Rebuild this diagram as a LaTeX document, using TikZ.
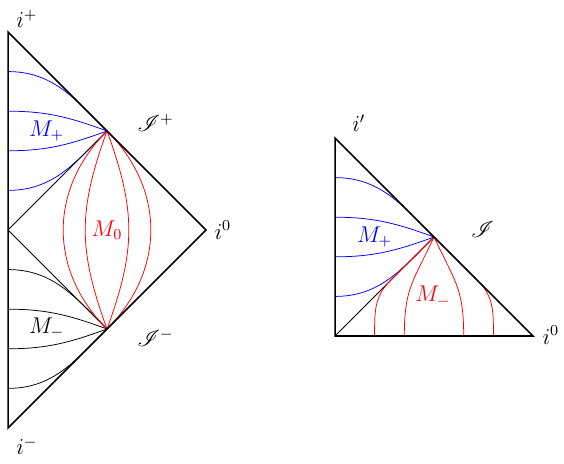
\documentclass[tikz,border=0pt]{standalone}
\usepackage{amsmath}
\usepackage{mathrsfs}
\usetikzlibrary{positioning}

\begin{document}
\begin{tikzpicture}[x=1.83cm, y=1.83cm, font=\large]
    \useasboundingbox (-0.081,-2.354) rectangle (5.616,2.323);
    % left diagram
    \coordinate (T) at (0,2);
    \coordinate (C) at (0,0);
    \coordinate (B) at (0,-2);
    \coordinate (R) at (2,0);
    \coordinate (P) at (1,1);
    \coordinate (Q) at (1,-1);
    \foreach \y/\a [count=\k] in {1.6/135, 1.2/160, 0.8/200, 0.4/225}{
      \coordinate (u\k) at (0,\y);
      \draw[blue] (u\k) to[out=0, in=\a] (P);
    }
    \foreach \y/\a [count=\k] in {-0.4/135, -0.8/160, -1.2/200, -1.6/225}{
      \coordinate (l\k) at (0,\y);
      \draw (l\k) to[out=0, in=\a] (Q);
    }
    \draw (C)--(P);
    \draw (C)--(Q);
    \draw[red] (P) to[out=225, in=135, looseness=1.07] (Q);
    \draw[red] (P) to[out=-45, in=45, looseness=1.07] (Q);
    \draw[red] (P) to[out=250, in=110, looseness=1.1] (Q);
    \draw[red] (P) to[out=-70, in=70, looseness=1.1] (Q);
    \draw[thick] (T)--(B)--(R)--cycle;
    \node (iplus) at (0.19, 2.13){$i^+$};
    \node (iminus) at (0.19, -2.18){$i^-$};
    \node (izero) at (2.17, 0){$i^0$};
    \node (scriplus) at (1.49, 1.08){$\mathscr{I}^+$};
    \node (scriminus) at (1.49, -1.09){$\mathscr{I}^-$};
    \node[blue] (Mplus) at (0.39, 1.0){$M_+$};
    \node[red] (Mzero) at (1.0, 0){$M_0$};
    \node (Mminus) at (0.39, -0.99){$M_-$};
    % right diagram
    \begin{scope}[shift={(3.303,-1.071)}]
      \coordinate (O2) at (0,0);
      \coordinate (T2) at (0,2);
      \coordinate (R2) at (2,0);
      \coordinate (P2) at (1,1);
      \foreach \y/\a [count=\k] in {1.6/135, 1.2/160, 0.8/200, 0.4/225}{
        \coordinate (v\k) at (0,\y);
        \draw[blue] (v\k) to[out=0, in=\a] (P2);
      }
      \draw (O2)--(P2);
      % red slices: outer ones run along the edges first
      \coordinate (k1) at (0.55,0.55);
      \coordinate (k4) at (1.45,0.55);
      \coordinate (d1) at (0.4,0);
      \coordinate (d2) at (0.7,0);
      \coordinate (d3) at (1.3,0);
      \coordinate (d4) at (1.6,0);
      \draw[red] (P2)--(k1) to[out=225, in=90] (d1);
      \draw[red] (P2) to[out=245, in=90, looseness=1.2] (d2);
      \draw[red] (P2) to[out=295, in=90, looseness=1.2] (d3);
      \draw[red] (P2)--(k4) to[out=315, in=90] (d4);
      \draw[thick] (T2)--(O2)--(R2)--cycle;
      \node (iprime) at (0.24, 2.15){$i'$};
      \node (izero2) at (2.18, 0.01){$i^0$};
      \node (scri) at (1.49, 1.08){$\mathscr{I}$};
      \node[blue] (Mplus2) at (0.40, 1.0){$M_+$};
      \node[red] (Mminus2) at (0.99, 0.40){$M_-$};
    \end{scope}
  \end{tikzpicture}
\end{document}
